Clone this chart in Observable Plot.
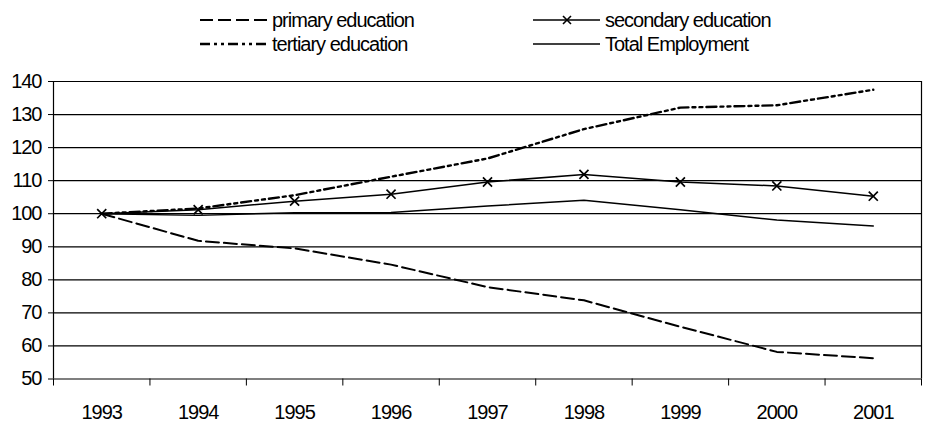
<!DOCTYPE html>
<html>
<head>
<meta charset="utf-8">
<script src="https://cdn.jsdelivr.net/npm/d3@7"></script>
<script src="https://cdn.jsdelivr.net/npm/@observablehq/plot@0.6"></script>
<style>
  html, body { margin: 0; padding: 0; background: #fff; }
  body { width: 926px; height: 427px; overflow: hidden; font-family: "Liberation Sans", Arial, sans-serif; }
  #legend { position: relative; width: 926px; height: 60px; font-size: 20px; letter-spacing: -1px; color: #000; }
  .item { position: absolute; display: flex; align-items: center; height: 24px; white-space: nowrap; }
  .item svg { display: block; margin-right: 5px; }
</style>
</head>
<body>
<div id="legend"></div>
<div id="chart"></div>
<script>
// ---- data ----
const years = [1993, 1994, 1995, 1996, 1997, 1998, 1999, 2000, 2001];
const primary   = [100, 91.8, 89.5, 84.6, 77.8, 73.8, 65.8, 58.2, 56.3];
const secondary = [100, 101.2, 103.8, 105.9, 109.6, 111.9, 109.6, 108.4, 105.3];
const tertiary  = [100, 101.6, 105.6, 111.2, 116.7, 125.6, 132.1, 132.8, 137.5];
const total     = [100, 99.5, 100.3, 100.4, 102.3, 104.1, 101.2, 98.1, 96.3];
const seriesNames = ["primary education", "secondary education", "tertiary education", "Total Employment"];
const yTicks = [50, 60, 70, 80, 90, 100, 110, 120, 130, 140];

// ---- styles ----
const styles = {
  "primary education":   {dash: "13,5", width: 2, marker: false},
  "secondary education": {dash: null, width: 1.5, marker: true},
  "tertiary education":  {dash: "10,4,3,4,3,4", width: 2.4, marker: false},
  "Total Employment":    {dash: null, width: 1.5, marker: false}
};
const valuesBySeries = {
  "primary education": primary,
  "secondary education": secondary,
  "tertiary education": tertiary,
  "Total Employment": total
};
const rows = seriesNames.flatMap(name =>
  years.map((year, i) => ({series: name, year, value: valuesBySeries[name][i]}))
);
const bounds = d3.range(years.length + 1).map(i => years[0] - 0.5 + i);

// ---- legend ----
const legendPos = {
  "primary education":   {x: 200, y: 8},
  "secondary education": {x: 533, y: 8},
  "tertiary education":  {x: 200, y: 32},
  "Total Employment":    {x: 533, y: 32}
};
const legend = document.getElementById("legend");
for (const name of seriesNames) {
  const s = styles[name], p = legendPos[name];
  const div = document.createElement("div");
  div.className = "item";
  div.style.left = p.x + "px";
  div.style.top = p.y + "px";
  let sw = `<svg width="67" height="14"><line x1="0" x2="67" y1="7" y2="7" stroke="#000" stroke-width="${s.width}"${s.dash ? ` stroke-dasharray="${s.dash}"` : ""}/>`;
  if (s.marker) sw += `<path d="M30,3L38,11M38,3L30,11" stroke="#000" stroke-width="1.6"/>`;
  sw += `</svg>`;
  div.innerHTML = sw + `<span>${name}</span>`;
  legend.appendChild(div);
}

// ---- chart ----
const marks = [
  Plot.gridY({ticks: yTicks, stroke: "#000", strokeOpacity: 1, strokeWidth: 1.2}),
  Plot.ruleX([bounds[0], bounds[bounds.length - 1]], {stroke: "#000", strokeWidth: 1.2}),
  Plot.axisY({ticks: yTicks, tickSize: 5, tickPadding: 7, label: null, fontSize: 20}),
  Plot.axisX({ticks: bounds, tickSize: 7, tickFormat: () => "", label: null}),
  Plot.axisX({ticks: years, tickSize: 0, tickPadding: 26, tickFormat: d => String(d), label: null, fontSize: 20})
];
for (const name of seriesNames) {
  const s = styles[name];
  marks.push(Plot.line(rows.filter(d => d.series === name), {
    x: "year", y: "value", stroke: "#000", strokeWidth: s.width,
    strokeDasharray: s.dash || undefined, strokeLinejoin: "round"
  }));
  if (s.marker) {
    marks.push(Plot.dot(rows.filter(d => d.series === name), {
      x: "year", y: "value", symbol: "times", r: 4.2, stroke: "#000", strokeWidth: 1.7
    }));
  }
}

const chart = Plot.plot({
  width: 926,
  height: 367,
  marginTop: 21,
  marginBottom: 48.5,
  marginLeft: 53,
  marginRight: 5,
  style: {fontFamily: "'Liberation Sans', Arial, sans-serif", fontSize: "20px", letterSpacing: "-1px", color: "#000", background: "#fff"},
  x: {type: "linear", domain: [bounds[0], bounds[bounds.length - 1]]},
  y: {domain: [50, 140]},
  marks
});
document.getElementById("chart").appendChild(chart);
</script>
</body>
</html>
